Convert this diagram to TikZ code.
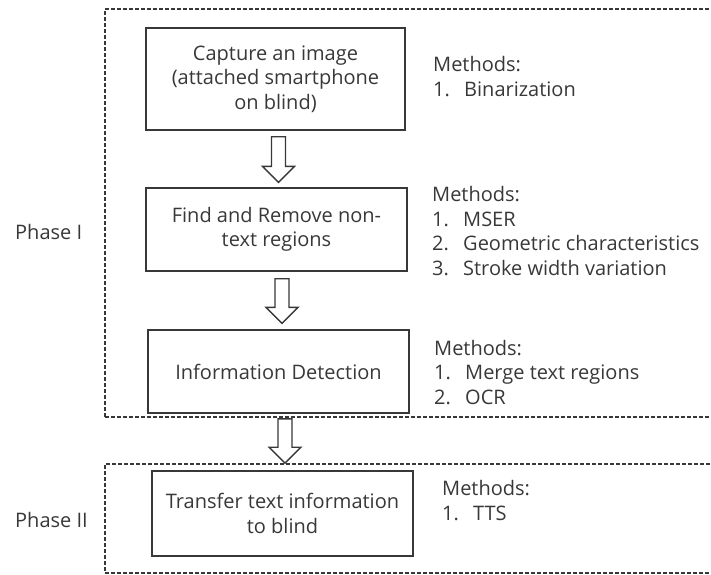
\documentclass[tikz,border=0pt]{standalone}
\usepackage{fontspec}
\setmainfont{Open Sans}
\usetikzlibrary{calc,positioning}
\definecolor{InkGray}{HTML}{383838}
\newcommand{\mitem}[2]{\makebox[31pt][l]{#1}#2}
\newcommand{\hollowarrow}[2]{%
  \draw[hollowtip] let \p1=(#1), \p2=(#2) in
    (\x1-7pt,\y1) -- (\x1+7pt,\y1) -- (\x1+7pt,\y2+16pt) -- (\x1+16pt,\y2+16pt)
    -- (\x1,\y2) -- (\x1-16pt,\y2+16pt) -- (\x1-7pt,\y2+16pt) -- cycle;}

\begin{document}
\begin{tikzpicture}[x=1pt, y=-1pt,
  every node/.style={font=\fontsize{20}{24.5}\selectfont, text=InkGray},
  stepbox/.style={draw=InkGray, line width=1.3pt, align=center, inner sep=0pt},
  phasebox/.style={draw=InkGray, line width=1.7pt, dash pattern=on 4pt off 2pt,
    inner sep=0pt, minimum width=611pt},
  methods/.style={anchor=base west, align=left, inner sep=0pt},
  hollowtip/.style={draw=InkGray, line width=1.3pt, fill=white, line join=miter}]
  \useasboundingbox (0,0) rectangle (711,574);

  % phase frames
  \node[phasebox, minimum height=408pt] (phase1) at (410.5,213) {};
  \node[phasebox, minimum height=109pt] (phase2) at (410.5,518.5) {};
  \node[methods] (lab1) at (15,239) {Phase I};
  \node[methods] (lab2) at (15,527) {Phase II};

  % steps
  \node[stepbox, minimum width=259pt, minimum height=102pt] (cap) at (275.5,79)
    {Capture an image\\(attached smartphone\\on blind)};
  \node[stepbox, minimum width=261pt, minimum height=83pt] (find) at (276.5,229.5)
    {Find and Remove non-\\text regions};
  \node[stepbox, minimum width=261pt, minimum height=83pt] (info) at (278.5,371.5)
    {Information Detection};
  \node[stepbox, minimum width=261pt, minimum height=85pt] (trans) at (282.5,513.5)
    {Transfer text information\\to blind};

  % methods (base = last line)
  \node[methods] (m1) at (433,96) {Methods:\\\mitem{1.}{Binarization}};
  \node[methods] (m2) at (432,275) {Methods:\\\mitem{1.}{MSER}\\
    \mitem{2.}{Geometric characteristics}\\\mitem{3.}{Stroke width variation}};
  \node[methods] (m3) at (434,404) {Methods:\\\mitem{1.}{Merge text regions}\\
    \mitem{2.}{OCR}};
  \node[methods] (m4) at (442,520) {Methods:\\\mitem{1.}{TTS}};

  % arrows
  \hollowarrow{$(cap.south)+(3,6)$}{$(find.north)+(0,-5)$}
  \hollowarrow{$(find.south)+(5.5,7)$}{$(info.north)+(0,-6)$}
  \hollowarrow{$(info.south |- phase1.south)+(6.5,1)$}{info.south |- phase2.north}
\end{tikzpicture}
\end{document}
